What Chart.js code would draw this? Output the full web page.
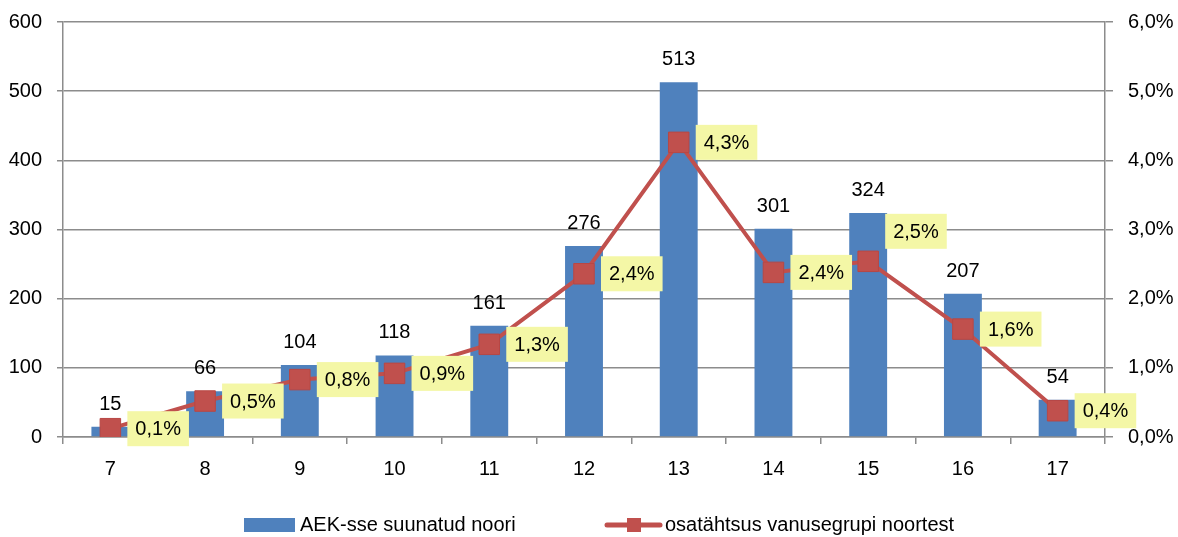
<!DOCTYPE html>
<html>
<head>
<meta charset="utf-8">
<script src="https://cdn.jsdelivr.net/npm/chart.js@4/dist/chart.umd.min.js"></script>
<style>
  html, body { margin: 0; padding: 0; background: #fff; }
  #wrap { width: 1178px; height: 537px; }
</style>
</head>
<body>
<div id="wrap"><canvas id="chart" width="1178" height="537"></canvas></div>
<script>
const ages = ["7", "8", "9", "10", "11", "12", "13", "14", "15", "16", "17"];
const youthCount = [15, 66, 104, 118, 161, 276, 513, 301, 324, 207, 54];
const shareOfAgeGroup = [0.12, 0.52, 0.83, 0.92, 1.34, 2.36, 4.26, 2.38, 2.54, 1.56, 0.38];
const countTicks = [0, 100, 200, 300, 400, 500, 600];
const shareTicks = [0, 1, 2, 3, 4, 5, 6];

const FONT_FAMILY = '"Liberation Sans", Arial, sans-serif';
const FONT_SIZE = 20;
const BLUE = "#4F81BD";
const RED = "#C0504D";
const GRID = "#8C8C8C";

const fmtPct = (v) => v.toFixed(1).replace(".", ",") + "%";

// value labels on bars and yellow boxes next to line points
const valueLabels = {
  id: "valueLabels",
  afterDatasetsDraw(chart) {
    const ctx = chart.ctx;
    const nudgeY = { 8: -30 }; // the 15 y label sits higher so it clears "207"
    ctx.save();
    ctx.font = FONT_SIZE + "px " + FONT_FAMILY;
    ctx.fillStyle = "#000";
    ctx.textAlign = "center";
    ctx.textBaseline = "alphabetic";
    chart.getDatasetMeta(0).data.forEach((bar, i) => {
      ctx.fillText(String(youthCount[i]), bar.x, bar.y - 17);
    });
    ctx.textAlign = "left";
    ctx.textBaseline = "middle";
    chart.getDatasetMeta(1).data.forEach((pt, i) => {
      const txt = fmtPct(shareOfAgeGroup[i]);
      const w = ctx.measureText(txt).width + 16;
      const h = 35;
      const x0 = pt.x + 17;
      const cy = pt.y + (nudgeY[i] || 0);
      ctx.fillStyle = "#F4F7A6";
      ctx.fillRect(x0, cy - h / 2, w, h);
      ctx.fillStyle = "#000";
      ctx.fillText(txt, x0 + 8, cy + 1);
    });
    ctx.restore();
  },
  afterDraw(chart) {
    // legend
    const ctx = chart.ctx;
    ctx.save();
    ctx.font = FONT_SIZE + "px " + FONT_FAMILY;
    ctx.textBaseline = "middle";
    ctx.fillStyle = BLUE;
    ctx.fillRect(244, 518, 51, 14);
    ctx.fillStyle = "#000";
    ctx.fillText(chart.data.datasets[0].label, 300, 525);

    ctx.strokeStyle = RED;
    ctx.lineWidth = 5;
    ctx.lineCap = "round";
    ctx.beginPath();
    ctx.moveTo(607, 525);
    ctx.lineTo(660, 525);
    ctx.stroke();
    ctx.fillStyle = RED;
    ctx.fillRect(627, 518, 14, 14);
    ctx.fillStyle = "#000";
    ctx.fillText(chart.data.datasets[1].label, 665, 525);
    ctx.restore();
  },
};

const noPad = (s) => { s.paddingTop = 0; s.paddingBottom = 0; s.paddingLeft = 0; s.paddingRight = 0; };

new Chart(document.getElementById("chart"), {
  type: "bar",
  data: {
    labels: ages,
    datasets: [
      {
        type: "bar",
        label: "AEK-sse suunatud noori",
        data: youthCount,
        backgroundColor: BLUE,
        barPercentage: 0.4,
        categoryPercentage: 1,
        yAxisID: "y",
        order: 1,
      },
      {
        type: "line",
        label: "osatähtsus vanusegrupi noortest",
        data: shareOfAgeGroup,
        borderColor: RED,
        borderWidth: 4,
        pointStyle: "rect",
        pointRadius: 14.5,
        pointBackgroundColor: RED,
        pointBorderColor: "#B84744",
        pointBorderWidth: 1,
        yAxisID: "y1",
        order: 0,
      },
    ],
  },
  options: {
    responsive: false,
    animation: false,
    layout: { padding: { top: 22, left: 0, right: 0, bottom: 0 } },
    plugins: {
      legend: { display: false },
      tooltip: { enabled: false },
    },
    scales: {
      x: {
        grid: {
          offset: true,
          drawOnChartArea: false,
          tickLength: 7,
          color: GRID,
          lineWidth: 1.5,
        },
        border: { color: GRID, width: 1.5 },
        ticks: {
          color: "#000",
          padding: 13,
          font: { family: FONT_FAMILY, size: FONT_SIZE },
          maxRotation: 0,
        },
        afterFit: (s) => { s.height = 100; noPad(s); },
      },
      y: {
        position: "left",
        min: 0,
        max: 600,
        afterBuildTicks: (s) => { s.ticks = countTicks.map((v) => ({ value: v })); },
        grid: { color: GRID, lineWidth: 1.5, tickLength: 6 },
        border: { color: GRID, width: 1.5 },
        ticks: {
          color: "#000",
          padding: 15,
          font: { family: FONT_FAMILY, size: FONT_SIZE },
        },
        afterFit: (s) => { s.width = 63; noPad(s); },
      },
      y1: {
        position: "right",
        min: 0,
        max: 6,
        afterBuildTicks: (s) => { s.ticks = shareTicks.map((v) => ({ value: v })); },
        grid: { drawOnChartArea: false, color: GRID, lineWidth: 1.5, tickLength: 8 },
        border: { color: GRID, width: 1.5 },
        ticks: {
          color: "#000",
          padding: 15,
          font: { family: FONT_FAMILY, size: FONT_SIZE },
          callback: (v) => fmtPct(v),
        },
        afterFit: (s) => { s.width = 73; noPad(s); },
      },
    },
  },
  plugins: [valueLabels],
});
</script>
</body>
</html>
